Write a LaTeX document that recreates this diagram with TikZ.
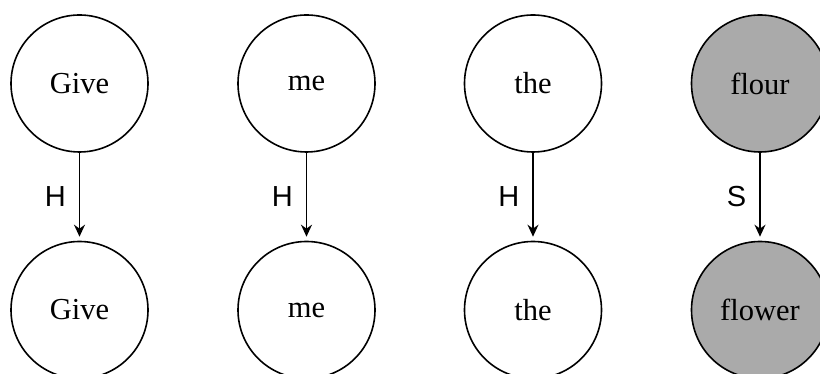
\documentclass[tikz,border=0pt]{standalone}
\usepackage{fontspec}
\setmainfont{Liberation Serif}
\setsansfont{Liberation Sans}
\usetikzlibrary{arrows.meta,positioning}
\definecolor{wordG}{HTML}{AAAAAA}
\tikzset{
  word/.style={circle, draw=black, line width=1.6pt, fill=#1, minimum size=137pt,
               inner sep=0pt, font=\fontsize{30.5}{36}\selectfont},
  word/.default=white,
  link/.style={-{Stealth[length=12pt,width=11pt]}, line width=1.6pt, shorten >=4pt},
  tag/.style={font=\sffamily\fontsize{29}{34}\selectfont, inner sep=0pt},
}

\begin{document}
\begin{tikzpicture}[x=1pt,y=1pt]
  \useasboundingbox (0,0) rectangle (820,374);
  % top row
  \node[word] (g1) at (79.5,290.5) {Give};
  \node[word] (m1) at (306.5,290.5) {me};
  \node[word] (t1) at (533,290.5) {the};
  \node[word=wordG] (f1) at (760,290.5) {flour};
  % bottom row
  \node[word] (g2) at (79.5,64) {Give};
  \node[word] (m2) at (306.5,64) {me};
  \node[word] (t2) at (533,64) {the};
  \node[word=wordG] (f2) at (760,64) {flower};
  % links
  \draw[link] (g1) -- node[tag, left=13pt] {H} (g2);
  \draw[link] (m1) -- node[tag, left=13pt] {H} (m2);
  \draw[link] (t1) -- node[tag, left=13pt] {H} (t2);
  \draw[link] (f1) -- node[tag, left=13pt] {S} (f2);
\end{tikzpicture}
\end{document}
